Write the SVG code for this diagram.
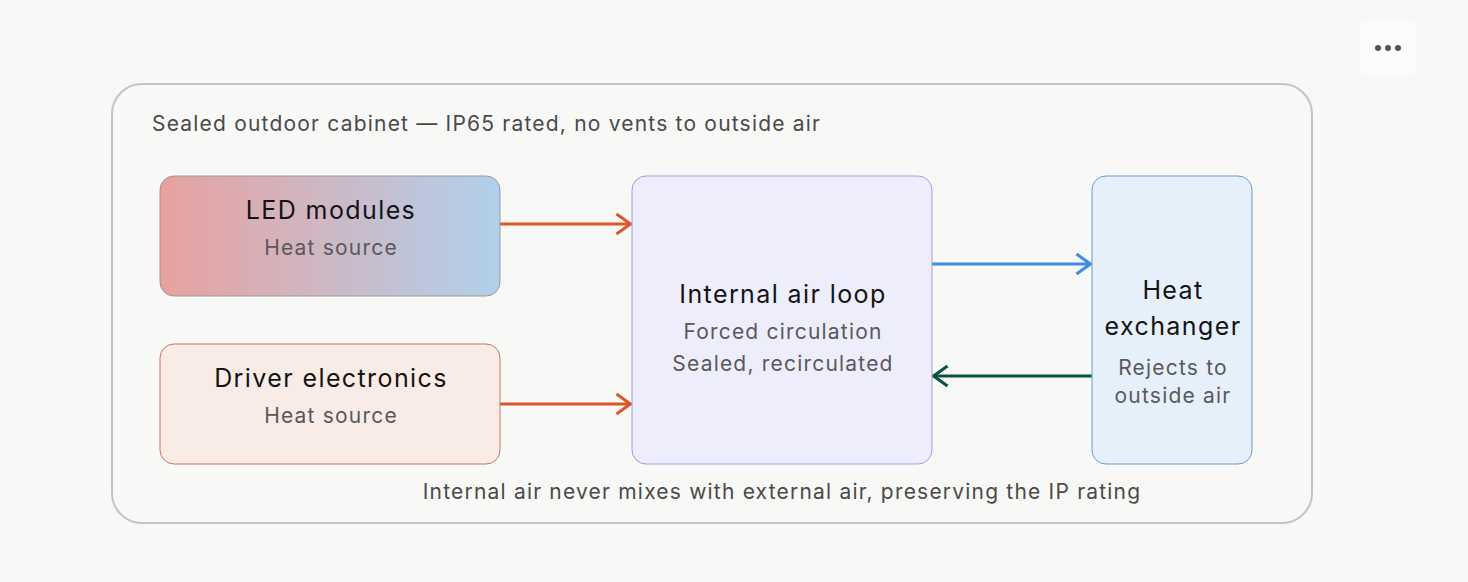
<svg xmlns="http://www.w3.org/2000/svg" width="1468" height="582" viewBox="0 0 1468 582">
<defs>
<linearGradient id="ledg" x1="0" y1="0" x2="1" y2="0">
<stop offset="0" stop-color="#e8a19f"/>
<stop offset="1" stop-color="#b1d0ec"/>
</linearGradient>
<marker id="ao" viewBox="0 0 18 24" refX="16.5" refY="12" markerWidth="18" markerHeight="24" markerUnits="userSpaceOnUse" orient="auto"><path d="M2,2 L16,12 L2,22" fill="none" stroke="#d9572b" stroke-width="3"/></marker>
<marker id="ab" viewBox="0 0 18 24" refX="16.5" refY="12" markerWidth="18" markerHeight="24" markerUnits="userSpaceOnUse" orient="auto"><path d="M2,2 L16,12 L2,22" fill="none" stroke="#3c8ce0" stroke-width="3"/></marker>
<marker id="ag" viewBox="0 0 18 24" refX="16.5" refY="12" markerWidth="18" markerHeight="24" markerUnits="userSpaceOnUse" orient="auto"><path d="M2,2 L16,12 L2,22" fill="none" stroke="#0b5040" stroke-width="3"/></marker>
</defs>
<style>
text{font-family:Inter,"Noto Sans",sans-serif;text-anchor:middle}
.t{font-size:25px;letter-spacing:1.4px;fill:#141414}
.s{font-size:21px;letter-spacing:1.2px;fill:#595959}
.c{font-size:21px;letter-spacing:1.2px;fill:#4a4a4a}
.e{fill:none;stroke-width:3.2}
</style>
<rect width="1468" height="582" fill="#f8f8f6"/>
<g id="menu">
<rect x="1360" y="20" width="56" height="56" rx="10" fill="#fcfcfa"/>
<circle cx="1378" cy="48" r="3" fill="#555"/>
<circle cx="1388" cy="48" r="3" fill="#555"/>
<circle cx="1398" cy="48" r="3" fill="#555"/>
</g>
<g id="cabinet">
<rect x="112" y="84" width="1200" height="439" rx="30" fill="#f8f8f6" stroke="#c4c4c2" stroke-width="2"/>
<text x="152" y="131" class="c" style="text-anchor:start">Sealed outdoor cabinet — IP65 rated, no vents to outside air</text>
<text x="782" y="499" class="c">Internal air never mixes with external air, preserving the IP rating</text>
</g>
<g id="connectors">
<line x1="500" y1="224" x2="631" y2="224" class="e" stroke="#d9572b" marker-end="url(#ao)"/>
<line x1="500" y1="404" x2="631" y2="404" class="e" stroke="#d9572b" marker-end="url(#ao)"/>
<line x1="932" y1="264" x2="1091" y2="264" class="e" stroke="#3c8ce0" marker-end="url(#ab)"/>
<line x1="1092" y1="376" x2="933" y2="376" class="e" stroke="#0b5040" marker-end="url(#ag)"/>
</g>
<g id="led">
<rect x="160" y="176" width="340" height="120" rx="14" fill="url(#ledg)" stroke="#9a9a9a" stroke-width="1"/>
<text x="331" y="219" class="t">LED modules</text>
<text x="331" y="255" class="s">Heat source</text>
</g>
<g id="driver">
<rect x="160" y="344" width="340" height="120" rx="14" fill="#f9ebe6" stroke="#c27a62" stroke-width="1"/>
<text x="331" y="387" class="t">Driver electronics</text>
<text x="331" y="423" class="s">Heat source</text>
</g>
<g id="loop">
<rect x="632" y="176" width="300" height="288" rx="14" fill="#eeedfb" stroke="#a39de0" stroke-width="1"/>
<text x="783" y="303" class="t">Internal air loop</text>
<text x="783" y="339" class="s">Forced circulation</text>
<text x="783" y="371" class="s">Sealed, recirculated</text>
</g>
<g id="hx">
<rect x="1092" y="176" width="160" height="288" rx="14" fill="#e6f0fb" stroke="#6b9bd2" stroke-width="1"/>
<text x="1173" y="299" class="t">Heat</text>
<text x="1173" y="335" class="t">exchanger</text>
<text x="1173" y="375" class="s">Rejects to</text>
<text x="1173" y="403" class="s">outside air</text>
</g>
</svg>
